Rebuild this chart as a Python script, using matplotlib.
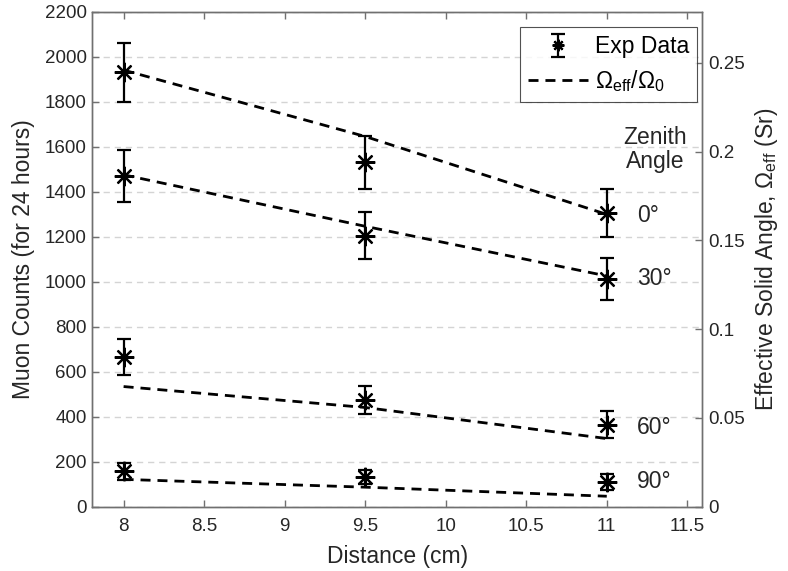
import matplotlib
matplotlib.use("Agg")
import matplotlib.pyplot as plt

plt.rcParams['font.family'] = ['Liberation Sans', 'DejaVu Sans']
plt.rcParams['mathtext.fontset'] = 'custom'
plt.rcParams['mathtext.rm'] = 'Liberation Sans'
plt.rcParams['mathtext.it'] = 'Liberation Sans:italic'

# data
distance = [8, 9.5, 11]
angles = ['0°', '30°', '60°', '90°']
counts = [[1930, 1530, 1305],
          [1470, 1205, 1012],
          [665, 475, 365],
          [157, 131, 110]]
errors = [[130, 118, 105],
          [115, 105, 93],
          [80, 63, 60],
          [38, 30, 37]]
omega = [[0.246, 0.2086, 0.1647],
         [0.187, 0.158, 0.130],
         [0.0677, 0.0559, 0.0384],
         [0.0154, 0.0110, 0.0059]]
label_y = [1296, 1016, 350, 110]

axcol = '#707070'
txtcol = '#262626'
fs = 16.5

fig = plt.figure(figsize=(7.88, 5.71), dpi=100)
ax = fig.add_axes([0.117, 0.1126, 0.7744, 0.8669])
ax2 = ax.twinx()

# gridlines (left axis ticks only)
ax.set_axisbelow(True)
ax.yaxis.grid(True, color='#d4d4d4', linestyle=(0, (4.5, 3.5)), linewidth=1.0)

for c, e in zip(counts, errors):
    eb = ax.errorbar(distance, c, yerr=e, linestyle='none', marker=(8, 2, 0),
                     markersize=14, markeredgewidth=1.6, color='black',
                     ecolor='black', elinewidth=1.6, capsize=5, capthick=1.6,
                     zorder=3)

for om in omega:
    ln, = ax2.plot(distance, om, color='black', linewidth=2.0,
                   linestyle=(0, (3.6, 2.5)))

ax.set_xlim(7.805, 11.594)
ax.set_ylim(0, 2200)
ax2.set_ylim(0, 0.2789)
ax.set_xticks([8, 8.5, 9, 9.5, 10, 10.5, 11, 11.5])
ax.set_xticklabels(['8', '8.5', '9', '9.5', '10', '10.5', '11', '11.5'])
ax.set_yticks(range(0, 2201, 200))
ax2.set_yticks([0, 0.05, 0.1, 0.15, 0.2, 0.25])
ax2.set_yticklabels(['0', '0.05', '0.1', '0.15', '0.2', '0.25'])

for a in (ax, ax2):
    for s in a.spines.values():
        s.set_color(axcol)
        s.set_linewidth(1.0)
ax.tick_params(axis='x', direction='in', top=True, length=5, width=1.0,
               color=axcol, labelsize=13.5, labelcolor=txtcol, pad=8)
ax.tick_params(axis='y', direction='in', length=5, width=1.0,
               color=axcol, labelsize=13.5, labelcolor=txtcol, pad=4)
ax2.tick_params(axis='y', direction='in', length=5, width=1.0,
                color=axcol, labelsize=13.5, labelcolor=txtcol, pad=4)

ax.set_xlabel('Distance (cm)', fontsize=fs, color=txtcol, labelpad=7)
ax.set_ylabel('Muon Counts (for 24 hours)', fontsize=fs, color=txtcol, labelpad=7)
ax2.set_ylabel(r'Effective Solid Angle, $\Omega_{\rm eff}$ (Sr)', fontsize=fs,
               color=txtcol, labelpad=6)

# zenith angle labels
ax.text(11.30, 1588, 'Zenith\nAngle', ha='center', va='center',
        fontsize=fs, color=txtcol, linespacing=1.05)
for name, y in zip(angles, label_y):
    ax.text(11.19, y, name, ha='left', va='center', fontsize=fs, color=txtcol)

leg = ax2.legend([eb, ln], ['Exp Data', r'$\Omega_{\rm eff}/\Omega_0$'],
                 loc='upper right', bbox_to_anchor=(0.991, 0.969),
                 fontsize=fs, frameon=True, fancybox=False, markerscale=0.6,
                 edgecolor=txtcol, handlelength=2.6, borderpad=0.35,
                 labelspacing=0.45, handletextpad=0.3, borderaxespad=0)
leg.get_frame().set_linewidth(0.8)

fig.savefig('out.png', dpi=100)
